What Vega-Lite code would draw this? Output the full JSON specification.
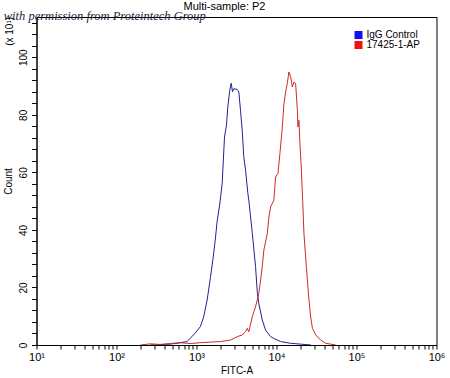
{
  "$schema": "https://vega.github.io/schema/vega-lite/v6.json",
  "width": 400,
  "height": 328,
  "autosize": {"type": "none"},
  "padding": {"left": 36.5, "top": 17, "right": 13.5, "bottom": 33},
  "background": "white",
  "config": {
    "font": "Liberation Sans",
    "view": {"stroke": "black", "strokeWidth": 1},
    "axis": {
      "grid": false,
      "domainColor": "black",
      "tickColor": "black",
      "labelColor": "black",
      "titleColor": "black",
      "labelFont": "Liberation Sans",
      "titleFont": "Liberation Sans",
      "titleFontWeight": "normal",
      "labelFontSize": 10,
      "titleFontSize": 10
    }
  },
  "title": {
    "text": "Multi-sample: P2",
    "fontSize": 11,
    "fontWeight": "normal",
    "font": "Liberation Sans",
    "anchor": "middle",
    "frame": "group",
    "dx": -12,
    "dy": 5,
    "offset": 3,
    "color": "black"
  },
  "encoding": {
    "x": {
      "field": "x",
      "type": "quantitative",
      "scale": {"type": "log", "domain": [10, 1000000], "nice": false},
      "axis": {
        "title": "FITC-A",
        "values": [10,20,30,40,50,60,70,80,90,100,200,300,400,500,600,700,800,900,1000,2000,3000,4000,5000,6000,7000,8000,9000,10000,20000,30000,40000,50000,60000,70000,80000,90000,100000,200000,300000,400000,500000,600000,700000,800000,900000,1000000],
        "labelExpr": "datum.value == 10 ? '10¹' : datum.value == 100 ? '10²' : datum.value == 1000 ? '10³' : datum.value == 10000 ? '10⁴' : datum.value == 100000 ? '10⁵' : datum.value == 1000000 ? '10⁶' : ''",
        "labelOverlap": false,
        "labelFlush": false,
        "labelFontSize": 11,
        "tickSize": 4,
        "labelPadding": 2,
        "titlePadding": 3
      }
    },
    "y": {
      "field": "y",
      "type": "quantitative",
      "scale": {"domain": [0, 114], "nice": false, "zero": true},
      "axis": {
        "title": "Count",
        "values": [0,4,8,12,16,20,24,28,32,36,40,44,48,52,56,60,64,68,72,76,80,84,88,92,96,100,104,108,112],
        "labelExpr": "datum.value % 20 == 0 ? datum.label : ''",
        "labelAngle": -90,
        "labelOverlap": false,
        "labelFlush": false,
        "tickSize": 5,
        "labelPadding": 3,
        "titlePadding": 5
      }
    }
  },
  "layer": [
    {
      "data": {
        "values": [
          {"x": 263, "y": 0, "s": "IgG Control"},
          {"x": 468, "y": 0.3, "s": "IgG Control"},
          {"x": 571, "y": 0.6, "s": "IgG Control"},
          {"x": 628, "y": 0.8, "s": "IgG Control"},
          {"x": 762, "y": 1.2, "s": "IgG Control"},
          {"x": 839, "y": 2.4, "s": "IgG Control"},
          {"x": 968, "y": 4.2, "s": "IgG Control"},
          {"x": 1119, "y": 6.4, "s": "IgG Control"},
          {"x": 1230, "y": 9.8, "s": "IgG Control"},
          {"x": 1358, "y": 15.6, "s": "IgG Control"},
          {"x": 1493, "y": 23.4, "s": "IgG Control"},
          {"x": 1614, "y": 30.3, "s": "IgG Control"},
          {"x": 1726, "y": 37.2, "s": "IgG Control"},
          {"x": 1811, "y": 43, "s": "IgG Control"},
          {"x": 1954, "y": 49, "s": "IgG Control"},
          {"x": 2094, "y": 56.2, "s": "IgG Control"},
          {"x": 2239, "y": 72.3, "s": "IgG Control"},
          {"x": 2371, "y": 76.4, "s": "IgG Control"},
          {"x": 2460, "y": 82.7, "s": "IgG Control"},
          {"x": 2606, "y": 88.5, "s": "IgG Control"},
          {"x": 2716, "y": 91, "s": "IgG Control"},
          {"x": 2818, "y": 88, "s": "IgG Control"},
          {"x": 2924, "y": 89.1, "s": "IgG Control"},
          {"x": 3228, "y": 88.8, "s": "IgG Control"},
          {"x": 3381, "y": 88, "s": "IgG Control"},
          {"x": 3548, "y": 81.6, "s": "IgG Control"},
          {"x": 3724, "y": 74.7, "s": "IgG Control"},
          {"x": 3899, "y": 65.5, "s": "IgG Control"},
          {"x": 4102, "y": 60.8, "s": "IgG Control"},
          {"x": 4385, "y": 52.7, "s": "IgG Control"},
          {"x": 4508, "y": 50.3, "s": "IgG Control"},
          {"x": 4977, "y": 39, "s": "IgG Control"},
          {"x": 5470, "y": 27.3, "s": "IgG Control"},
          {"x": 5754, "y": 18.3, "s": "IgG Control"},
          {"x": 6012, "y": 14.4, "s": "IgG Control"},
          {"x": 6637, "y": 8.7, "s": "IgG Control"},
          {"x": 7295, "y": 5.2, "s": "IgG Control"},
          {"x": 8433, "y": 2.9, "s": "IgG Control"},
          {"x": 9268, "y": 2.3, "s": "IgG Control"},
          {"x": 11246, "y": 1.2, "s": "IgG Control"},
          {"x": 14997, "y": 0.6, "s": "IgG Control"},
          {"x": 20045, "y": 0.3, "s": "IgG Control"},
          {"x": 26915, "y": 0, "s": "IgG Control"},
          {"x": 198, "y": 0, "s": "17425-1-AP"},
          {"x": 264, "y": 0.4, "s": "17425-1-AP"},
          {"x": 352, "y": 0.2, "s": "17425-1-AP"},
          {"x": 471, "y": 0.5, "s": "17425-1-AP"},
          {"x": 628, "y": 0.8, "s": "17425-1-AP"},
          {"x": 839, "y": 0.5, "s": "17425-1-AP"},
          {"x": 1119, "y": 0.8, "s": "17425-1-AP"},
          {"x": 1493, "y": 1.0, "s": "17425-1-AP"},
          {"x": 1991, "y": 1.2, "s": "17425-1-AP"},
          {"x": 2655, "y": 1.7, "s": "17425-1-AP"},
          {"x": 3228, "y": 2.9, "s": "17425-1-AP"},
          {"x": 3724, "y": 3.5, "s": "17425-1-AP"},
          {"x": 4102, "y": 4.6, "s": "17425-1-AP"},
          {"x": 4305, "y": 5.8, "s": "17425-1-AP"},
          {"x": 4508, "y": 4.6, "s": "17425-1-AP"},
          {"x": 4977, "y": 9.8, "s": "17425-1-AP"},
          {"x": 5470, "y": 13.3, "s": "17425-1-AP"},
          {"x": 6012, "y": 17.9, "s": "17425-1-AP"},
          {"x": 6324, "y": 22.6, "s": "17425-1-AP"},
          {"x": 6637, "y": 27.2, "s": "17425-1-AP"},
          {"x": 6950, "y": 33, "s": "17425-1-AP"},
          {"x": 7674, "y": 38.8, "s": "17425-1-AP"},
          {"x": 8035, "y": 44.5, "s": "17425-1-AP"},
          {"x": 8433, "y": 48, "s": "17425-1-AP"},
          {"x": 9268, "y": 50.3, "s": "17425-1-AP"},
          {"x": 9750, "y": 58.4, "s": "17425-1-AP"},
          {"x": 10423, "y": 59.6, "s": "17425-1-AP"},
          {"x": 11041, "y": 66.6, "s": "17425-1-AP"},
          {"x": 11830, "y": 75.8, "s": "17425-1-AP"},
          {"x": 12388, "y": 83.9, "s": "17425-1-AP"},
          {"x": 13002, "y": 88, "s": "17425-1-AP"},
          {"x": 13646, "y": 90.9, "s": "17425-1-AP"},
          {"x": 14289, "y": 94.9, "s": "17425-1-AP"},
          {"x": 15031, "y": 93.2, "s": "17425-1-AP"},
          {"x": 15776, "y": 89.7, "s": "17425-1-AP"},
          {"x": 16520, "y": 91.4, "s": "17425-1-AP"},
          {"x": 17338, "y": 90.9, "s": "17425-1-AP"},
          {"x": 18239, "y": 81.6, "s": "17425-1-AP"},
          {"x": 18535, "y": 75.8, "s": "17425-1-AP"},
          {"x": 19099, "y": 78.1, "s": "17425-1-AP"},
          {"x": 19634, "y": 70, "s": "17425-1-AP"},
          {"x": 20464, "y": 60.8, "s": "17425-1-AP"},
          {"x": 21232, "y": 50.3, "s": "17425-1-AP"},
          {"x": 22029, "y": 38.8, "s": "17425-1-AP"},
          {"x": 23605, "y": 27.2, "s": "17425-1-AP"},
          {"x": 25468, "y": 15.6, "s": "17425-1-AP"},
          {"x": 26730, "y": 9.8, "s": "17425-1-AP"},
          {"x": 28119, "y": 5.8, "s": "17425-1-AP"},
          {"x": 30903, "y": 3.5, "s": "17425-1-AP"},
          {"x": 35727, "y": 1.7, "s": "17425-1-AP"},
          {"x": 41210, "y": 0.6, "s": "17425-1-AP"},
          {"x": 47643, "y": 0.3, "s": "17425-1-AP"},
          {"x": 54954, "y": 0, "s": "17425-1-AP"}
        ]
      },
      "mark": {"type": "line", "strokeWidth": 1, "clip": true, "interpolate": "linear"},
      "encoding": {
        "color": {
          "field": "s",
          "type": "nominal",
          "scale": {"domain": ["IgG Control", "17425-1-AP"], "range": ["#22228f", "#cc2a2a"]},
          "legend": {
            "title": null,
            "orient": "none",
            "legendX": 317,
            "legendY": 13,
            "padding": 0,
            "symbolType": "square",
            "symbolSize": 64,
            "symbolStrokeWidth": 0,
            "labelFontSize": 10,
            "labelFont": "Liberation Sans",
            "labelColor": "black",
            "labelOffset": 3,
            "rowPadding": -1,
            "encode": {
              "symbols": {
                "update": {
                  "fill": {"signal": "datum.value == 'IgG Control' ? '#1010f0' : '#f01010'"},
                  "fillOpacity": {"value": 1},
                  "strokeWidth": {"value": 0}
                }
              }
            }
          }
        }
      }
    },
    {
      "data": {"values": [{"note": "with permission from Proteintech Group", "x": 3.9, "y": 113.0}]},
      "mark": {"type": "text", "align": "left", "baseline": "alphabetic", "font": "Liberation Serif", "fontStyle": "italic", "fontSize": 12.5, "color": "#1c1c3c"},
      "encoding": {
        "text": {"field": "note"}
      }
    },
    {
      "data": {"values": [{"note": "(x 10¹)", "x": 4.6, "y": 109}]},
      "mark": {"type": "text", "align": "center", "baseline": "middle", "angle": 270, "font": "Liberation Sans", "fontSize": 10, "color": "black"},
      "encoding": {
        "text": {"field": "note"}
      }
    }
  ]
}
